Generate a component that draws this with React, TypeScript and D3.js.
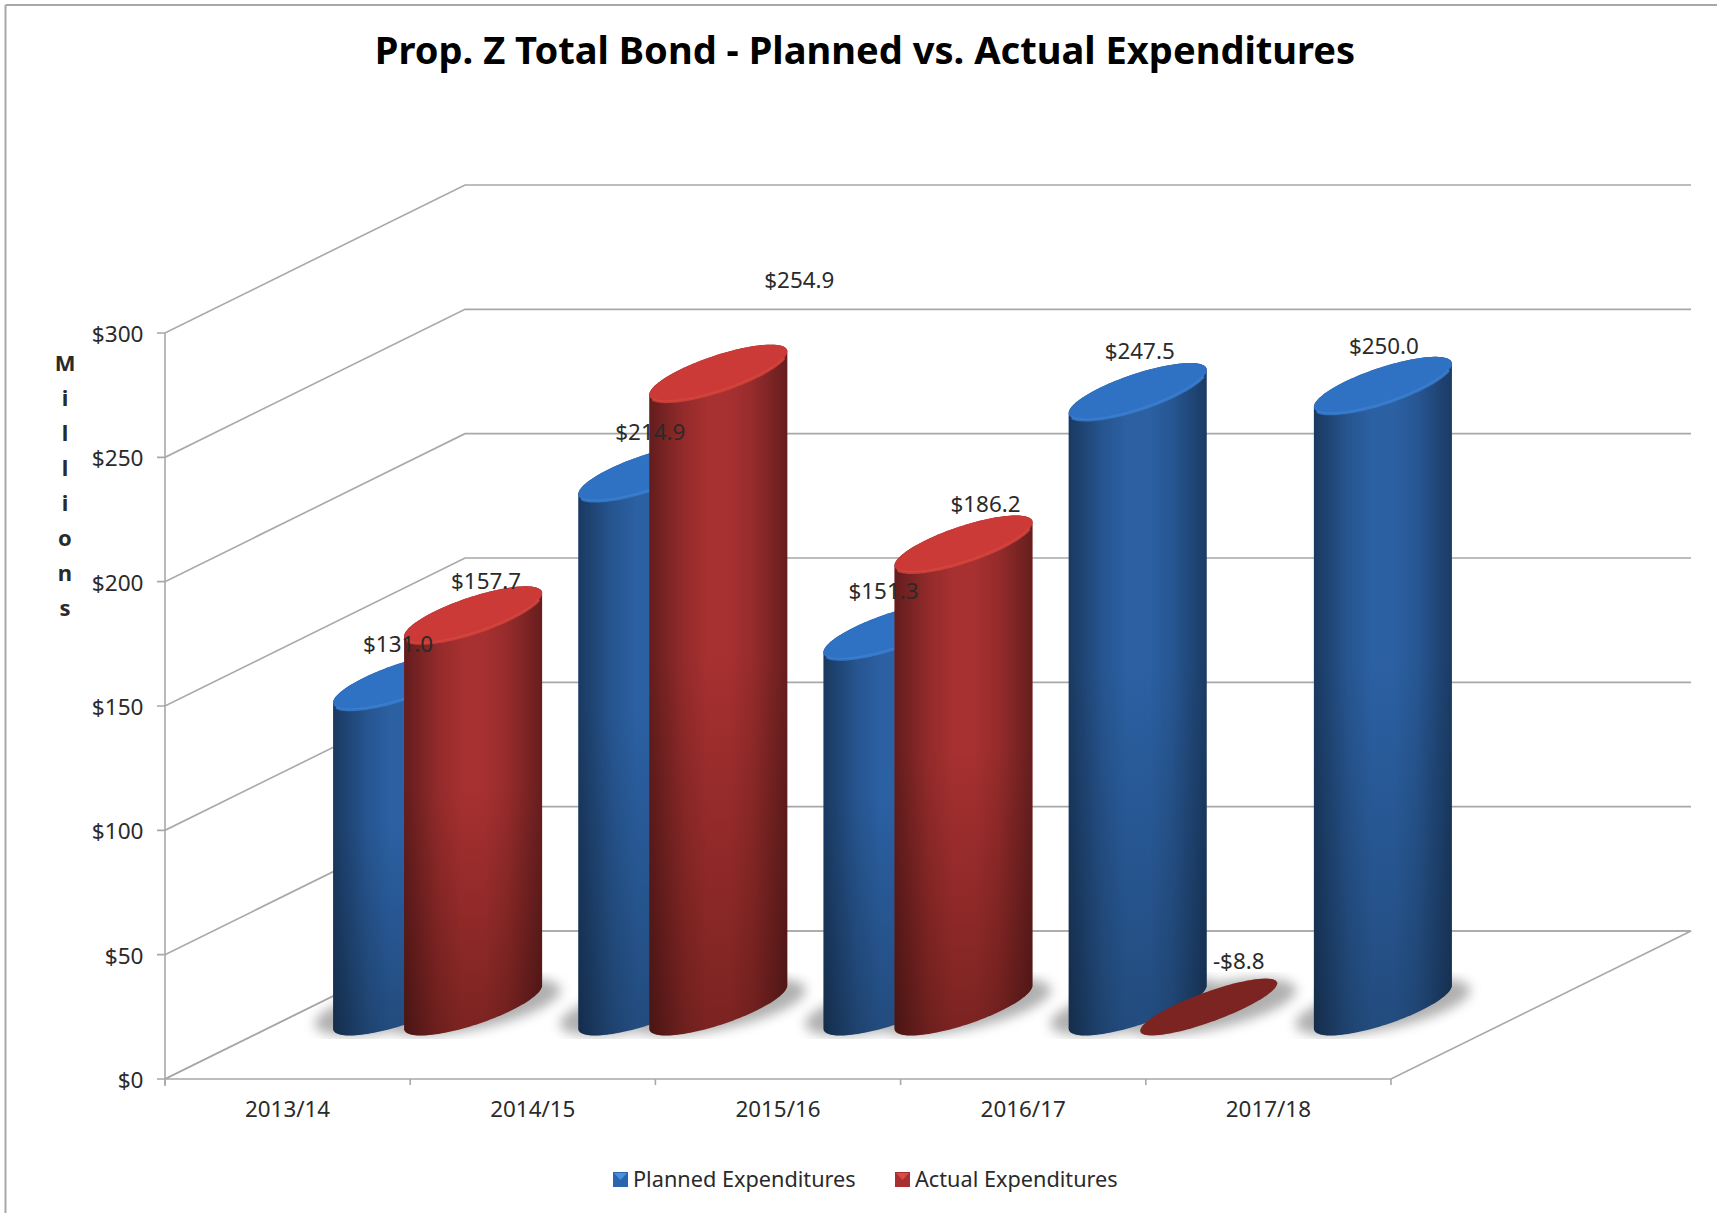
import React from "react";
import * as d3 from "d3";

// Chart content
const titleText = "Prop. Z Total Bond - Planned vs. Actual Expenditures";
const axisTitle = "Millions";
const categories = ["2013/14", "2014/15", "2015/16", "2016/17", "2017/18"];
const seriesNames = ["Planned Expenditures", "Actual Expenditures"];
const planned: (number | null)[] = [131.0, 214.9, 151.3, 247.5, 250.0];
const actual: (number | null)[] = [157.7, 254.9, 186.2, -8.8, null];
const valueTicks = [0, 50, 100, 150, 200, 250, 300];

// Hand-placed data label offsets, relative to the centre of each cylinder's top
const plannedNudge = [[-4, -38], [3, -41], [-9, -40], [2, -41.5], [1, -39.5]];
const actualNudge = [[13, -34], [81, -94], [22, -40], [30, -46.5], [0, 0]];

// Oblique projection of the chart box
const W = 1717;
const H = 1213;
const FONT = "'Noto Sans', 'Open Sans', sans-serif";
const DEPTH_X = 300;
const DEPTH_Y = -148;
const GRID = "#a8a8a8";
const TEXT = "#2a2a2a";

const yScale = d3.scaleLinear().domain([0, 300]).range([1079, 333]);
const xScale = d3.scaleBand().domain(categories).range([165, 1391]);
const seriesScale = d3.scaleBand().domain(seriesNames).range([-71, 71]);
const heightOf = (v: number) => yScale(0) - yScale(Math.max(0, v));

// Cylinder base ellipse: a horizontal half-axis plus a half-axis along the depth direction
const UX = 45;
const VX = 52.3;
const VY = -28.5;
const BASE_DROP = 2;
const T_RIGHT = Math.atan2(VX, UX);
// Clamped bars collapse to a thinner disc on the floor
const FLAT_UX = 38;
const FLAT_VX = 57;

type P = [number, number];
const line = d3.line<P>();

function ellipsePoint(cx: number, cy: number, t: number, ux = UX, vx = VX): P {
  return [cx + ux * Math.cos(t) + vx * Math.sin(t), cy + VY * Math.sin(t)];
}
function arcPoints(cx: number, cy: number, from: number, to: number, ux = UX, vx = VX, n = 60): P[] {
  return d3.range(n + 1).map((i) => ellipsePoint(cx, cy, from + ((to - from) * i) / n, ux, vx));
}
const ellipsePath = (cx: number, cy: number, ux = UX, vx = VX) =>
  line(arcPoints(cx, cy, 0, Math.PI * 2, ux, vx, 90)) + "Z";

function bodyPath(cx: number, cy: number, h: number) {
  const front = arcPoints(cx, cy, T_RIGHT + Math.PI, T_RIGHT + 2 * Math.PI);
  const rim = arcPoints(cx, cy - h, T_RIGHT, T_RIGHT + Math.PI);
  return line([...front, ...rim]) + "Z";
}
// The lit lip along the near edge of a cylinder's top
const lipPath = (cx: number, cy: number) =>
  line(arcPoints(cx, cy, T_RIGHT + Math.PI + 0.3, T_RIGHT + 2 * Math.PI - 0.3));

const palettes = [
  { id: "planned", top: "#2c62a6", bottom: "#234d80", cap: "#2f72c4", lip: "#3c82d4", flat: "#234f85", sw: "#2a66ad", swTop: "#4a90e0" },
  { id: "actual", top: "#aa3131", bottom: "#7d2422", cap: "#cb3a37", lip: "#d9473f", flat: "#7c2421", sw: "#a83030", swTop: "#dc4a45" },
];

type Bar = { series: number; cat: number; value: number; cx: number; cy: number; h: number; label: string; lx: number; ly: number };

function money(v: number) {
  return (v < 0 ? "-$" : "$") + d3.format(".1f")(Math.abs(v));
}

const bars: Bar[] = [];
categories.forEach((cat, i) => {
  [planned, actual].forEach((values, s) => {
    const value = values[i];
    if (value === null) return;
    const cx = xScale(cat)! + xScale.bandwidth() / 2 + seriesScale(seriesNames[s])! + seriesScale.bandwidth() / 2 + DEPTH_X / 2;
    const cy = yScale(0) + DEPTH_Y / 2 + BASE_DROP;
    const h = heightOf(value);
    const nudge = (s === 0 ? plannedNudge : actualNudge)[i];
    bars.push({ series: s, cat: i, value, cx, cy, h, label: money(value), lx: cx + nudge[0], ly: cy - h + nudge[1] });
  });
});

export default function App() {
  const x0 = xScale.range()[0];
  const x1 = xScale.range()[1];
  const floor: P[] = [
    [x0, yScale(0)],
    [x0 + DEPTH_X, yScale(0) + DEPTH_Y],
    [x1 + DEPTH_X, yScale(0) + DEPTH_Y],
    [x1, yScale(0)],
  ];
  return (
    <svg width={W} height={H} viewBox={`0 0 ${W} ${H}`} style={{ position: "fixed", left: 0, top: 0, background: "#fff" }} fontFamily={FONT}>
      <defs>
        <filter id="soft" x="-30%" y="-60%" width="160%" height="220%">
          <feGaussianBlur stdDeviation="6" />
        </filter>
        <clipPath id="floorBand">
          <rect x="0" y={yScale(0) + DEPTH_Y + 41} width={W} height={67} />
        </clipPath>
        <linearGradient id="edgeShade" x1="0" x2="1" y1="0" y2="0">
          <stop offset="0" stopColor="#000" stopOpacity="0.42" />
          <stop offset="0.25" stopColor="#000" stopOpacity="0.13" />
          <stop offset="0.42" stopColor="#000" stopOpacity="0.02" />
          <stop offset="0.58" stopColor="#000" stopOpacity="0.02" />
          <stop offset="0.75" stopColor="#000" stopOpacity="0.12" />
          <stop offset="1" stopColor="#000" stopOpacity="0.4" />
        </linearGradient>
        {palettes.map((p) => (
          <linearGradient key={p.id} id={`body-${p.id}`} x1="0" x2="0" y1="0" y2="1">
            <stop offset="0" stopColor={p.top} />
            <stop offset="0.45" stopColor={p.top} />
            <stop offset="1" stopColor={p.bottom} />
          </linearGradient>
        ))}
      </defs>

      {/* Outer frame */}
      <g stroke={GRID} strokeWidth={2} fill="none">
        <line x1={5.5} y1={H} x2={5.5} y2={5} />
        <line x1={5.5} y1={5} x2={W} y2={5} />
      </g>

      <text x={865} y={63.5} textAnchor="middle" fontSize={38.1} fontWeight={700} fill="#000">
        {titleText}
      </text>

      {/* Walls and floor */}
      <g stroke={GRID} strokeWidth={1.6} fill="none">
        {valueTicks.map((t) => (
          <path
            key={t}
            d={
              line([
                [x0 - 8, yScale(t)],
                [x0, yScale(t)],
                [x0 + DEPTH_X, yScale(t) + DEPTH_Y],
                [x1 + DEPTH_X, yScale(t) + DEPTH_Y],
              ])!
            }
          />
        ))}
        <path d={line(floor)! + "Z"} />
        <line x1={x0} x2={x0} y1={yScale(300)} y2={yScale(0) + 7} />
        {[...categories.map((c) => xScale(c)!), x1].map((x) => (
          <line key={x} x1={x} x2={x} y1={yScale(0)} y2={yScale(0) + 6} />
        ))}
      </g>

      {/* Value axis labels */}
      <g fontSize={22.6} fill={TEXT} textAnchor="end">
        {valueTicks.map((t) => (
          <text key={t} x={143.5} y={yScale(t) + 9}>
            ${t}
          </text>
        ))}
      </g>
      <g fontSize={22} fontWeight={700} fill={TEXT} textAnchor="middle">
        {axisTitle.split("").map((ch, i) => (
          <text key={i} x={65} y={370.5 + i * 35}>
            {ch}
          </text>
        ))}
      </g>

      {/* Category labels */}
      <g fontSize={22.4} fill={TEXT} textAnchor="middle">
        {categories.map((c) => (
          <text key={c} x={xScale(c)! + xScale.bandwidth() / 2} y={1117}>
            {c}
          </text>
        ))}
      </g>

      {/* Floor shadows */}
      <g clipPath="url(#floorBand)">
        <g filter="url(#soft)" fill="#9a9a9a" opacity={0.78}>
          {bars.map((b) => (
            <path key={`${b.series}-${b.cat}`} d={ellipsePath(b.cx, b.cy, 70)} />
          ))}
        </g>
      </g>

      {/* Cylinders */}
      {bars.map((b) => {
        const p = palettes[b.series];
        if (b.h === 0) {
          return <path key={`${b.series}-${b.cat}`} d={ellipsePath(b.cx, b.cy, FLAT_UX, FLAT_VX)} fill={p.flat} />;
        }
        const body = bodyPath(b.cx, b.cy, b.h);
        return (
          <g key={`${b.series}-${b.cat}`}>
            <path d={body} fill={`url(#body-${p.id})`} />
            <path d={body} fill="url(#edgeShade)" />
            <path d={ellipsePath(b.cx, b.cy - b.h)} fill={p.cap} />
            <path d={lipPath(b.cx, b.cy - b.h)!} fill="none" stroke={p.lip} strokeWidth={3} opacity={0.75} />
          </g>
        );
      })}

      {/* Data labels */}
      <g fontSize={22.4} fill={TEXT} textAnchor="middle">
        {bars.map((b) => (
          <text key={`${b.series}-${b.cat}`} x={b.lx} y={b.ly + 8.5}>
            {b.label}
          </text>
        ))}
      </g>

      {/* Legend */}
      <g fontSize={21.7} fill={TEXT}>
        {seriesNames.map((name, i) => {
          const x = i === 0 ? 613 : 895;
          const p = palettes[i];
          return (
            <g key={name}>
              <rect x={x} y={1172} width={15} height={15} fill={p.sw} />
              <path d={line([[x + 1, 1173], [x + 14, 1173], [x + 7.5, 1180]])! + "Z"} fill={p.swTop} />
              <text x={x + 20} y={1187}>
                {name}
              </text>
            </g>
          );
        })}
      </g>
    </svg>
  );
}
